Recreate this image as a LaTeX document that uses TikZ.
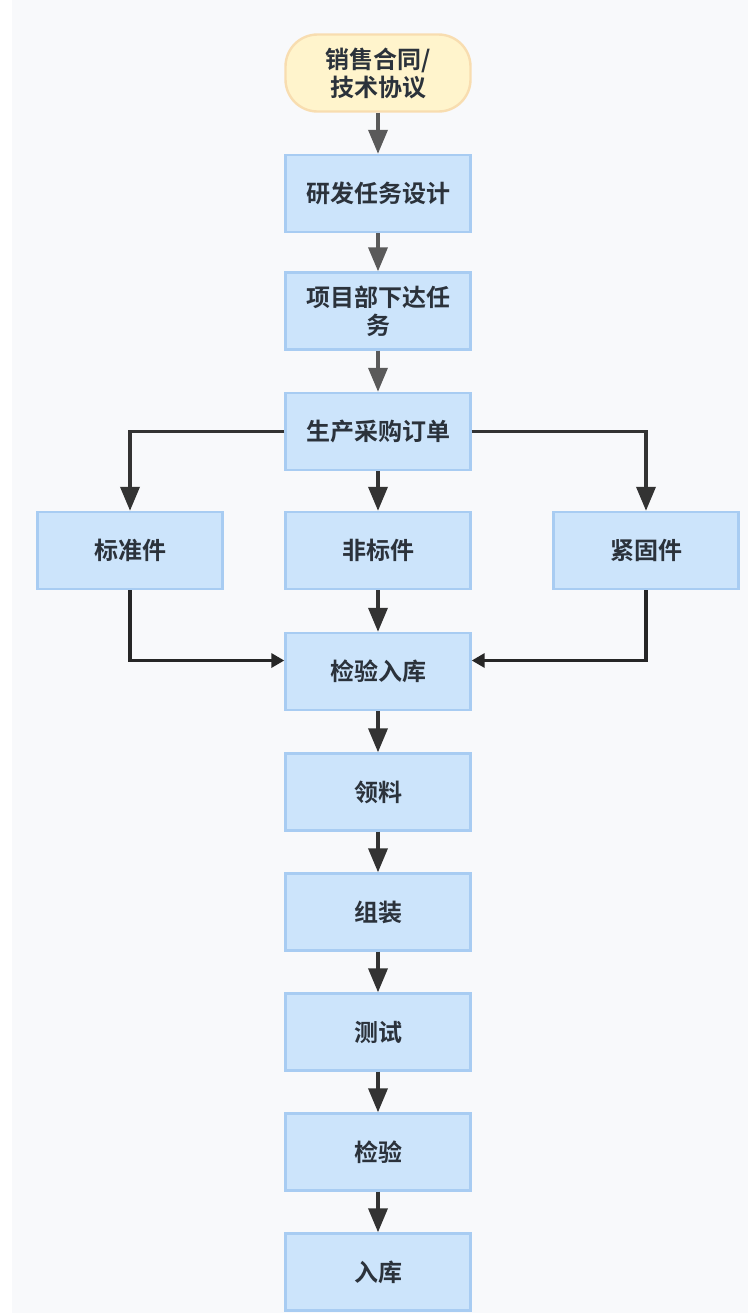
\documentclass[tikz,border=0pt]{standalone}
\usepackage{fontspec}
\newfontfamily\cjk[BoldFont={Noto Sans CJK SC Bold}]{Noto Sans CJK SC}
\usetikzlibrary{arrows.meta}
\definecolor{boxfill}{HTML}{CCE4FB}
\definecolor{boxline}{HTML}{A8CCF2}
\definecolor{startfill}{HTML}{FFF4CC}
\definecolor{startline}{HTML}{F8DDB0}
\definecolor{txt}{HTML}{2B323B}
\definecolor{greyarr}{HTML}{5A5A5A}
\definecolor{darkarr}{HTML}{333333}
\definecolor{bg}{HTML}{F8F9FB}
\begin{document}
\begin{tikzpicture}[x=0.5pt,y=-0.5pt,
	box/.style={draw=boxline,line width=1.2pt,fill=boxfill,minimum width=92.5pt,minimum height=38.5pt,inner sep=0pt,align=center,text=txt,font=\cjk\bfseries\fontsize{12}{14}\selectfont},
	startbox/.style={box,draw=startline,fill=startfill,rounded corners=16pt},
	arr/.style={-{Triangle[length=12pt,width=9.5pt]},line width=1.8pt,draw=darkarr},
	garr/.style={arr,draw=greyarr},
	harr/.style={-{Triangle[length=6.5pt,width=7pt]},line width=1.8pt,draw=black!85}]
		\useasboundingbox (0,0) rectangle (748,1313);
		\fill[white] (0,0) rectangle (748,1313);
		\fill[bg] (12,0) rectangle (748,1313);
		\node (ht) at (378,73) [startbox]{销售合同/\\技术协议};
		\node (yf) at (378,193.5) [box]{研发任务设计};
		\node (xm) at (378,311) [box]{项目部下达任\\务};
		\node (sc) at (378,431.5) [box]{生产采购订单};
		\node (bzj) at (130,550.5) [box]{标准件};
		\node (fbj) at (378,550.5) [box]{非标件};
		\node (jgj) at (646,550.5) [box]{紧固件};
		\node (jyrk) at (378,671.5) [box]{检验入库};
		\node (ll) at (378,792) [box]{领料};
		\node (zz) at (378,912) [box]{组装};
		\node (cs) at (378,1032) [box]{测试};
		\node (jy) at (378,1152) [box]{检验};
		\node (rk) at (378,1272) [box]{入库};
		\draw[garr] (ht)--(yf);
		\draw[garr] (yf)--(xm);
		\draw[garr] (xm)--(sc);
		\draw[arr] (sc.west)-|(bzj);
		\draw[arr] (sc)--(fbj);
		\draw[arr] (sc.east)-|(jgj);
		\draw[arr] (fbj)--(jyrk);
		\draw[harr] (bzj)|-([yshift=5.5pt]jyrk.west);
		\draw[harr] (jgj)|-([yshift=5.5pt]jyrk.east);
		\draw[arr] (jyrk)--(ll);
		\draw[arr] (ll)--(zz);
		\draw[arr] (zz)--(cs);
		\draw[arr] (cs)--(jy);
		\draw[arr] (jy)--(rk);
	\end{tikzpicture}
\end{document}
